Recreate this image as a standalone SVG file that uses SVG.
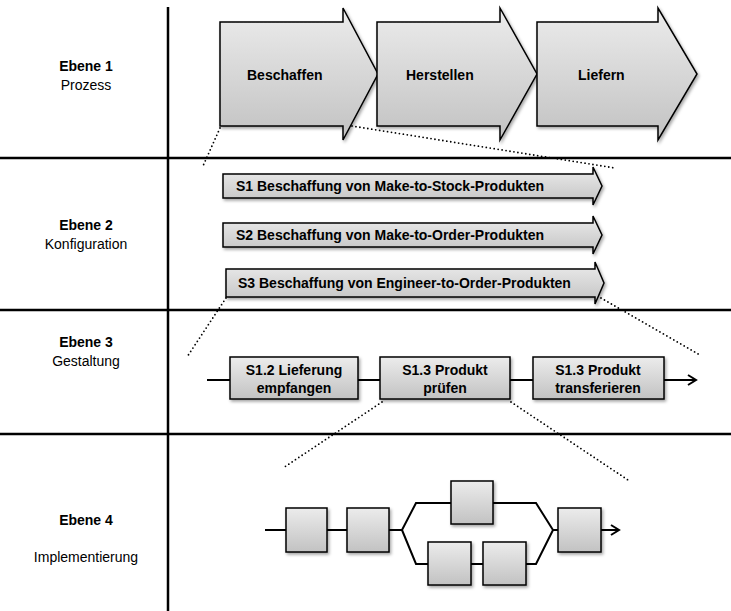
<svg xmlns="http://www.w3.org/2000/svg" width="731" height="611" viewBox="0 0 731 611">
<style>
.lbl{font-family:"Liberation Sans",Arial,sans-serif;font-size:14px;text-anchor:middle;fill:#000}
.b{font-weight:bold}
.shape{fill:url(#g);stroke:#000;stroke-width:1.5;filter:url(#sh)}
.ln{stroke:#000;stroke-width:2.5;fill:none}
.flow{stroke:#000;stroke-width:2;fill:none}
.dot{stroke:#000;stroke-width:1.8;stroke-dasharray:0 4;stroke-linecap:round;fill:none}
.t1{font-family:"Liberation Sans",Arial,sans-serif;font-size:14px;font-weight:bold;fill:#000}
.t2{font-family:"Liberation Sans",Arial,sans-serif;font-size:14px;font-weight:bold;fill:#000}
</style>
<defs>
<linearGradient id="g" x1="0" y1="0" x2="0" y2="1">
<stop offset="0" stop-color="#ececec"/>
<stop offset="1" stop-color="#c2c2c2"/>
</linearGradient>
<filter id="sh" x="-10%" y="-10%" width="130%" height="140%">
<feDropShadow dx="1.5" dy="2" stdDeviation="1.5" flood-color="#000" flood-opacity="0.35"/>
</filter>
<marker id="arr" markerWidth="12" markerHeight="12" refX="10" refY="6" orient="auto" markerUnits="userSpaceOnUse">
<path d="M2,1 L10,6 L2,11" fill="none" stroke="#000" stroke-width="2"/>
</marker>
</defs>

<g id="grid">
<line class="ln" x1="168" y1="7" x2="168" y2="611"/>
<line class="ln" x1="0" y1="158" x2="731" y2="158"/>
<line class="ln" x1="0" y1="310" x2="731" y2="310"/>
<line class="ln" x1="0" y1="434" x2="731" y2="434"/>
</g>

<g id="labels">
<text class="lbl b" x="86" y="71">Ebene 1</text>
<text class="lbl" x="86" y="90">Prozess</text>
<text class="lbl b" x="86" y="230">Ebene 2</text>
<text class="lbl" x="86" y="249">Konfiguration</text>
<text class="lbl b" x="86" y="347">Ebene 3</text>
<text class="lbl" x="86" y="366">Gestaltung</text>
<text class="lbl b" x="86" y="525">Ebene 4</text>
<text class="lbl" x="86" y="562">Implementierung</text>
</g>

<g id="connectors">
<line class="dot" x1="220" y1="128" x2="203" y2="166"/>
<line class="dot" x1="352" y1="126" x2="615" y2="168"/>
<line class="dot" x1="226" y1="298" x2="187" y2="357"/>
<line class="dot" x1="601" y1="298" x2="700" y2="355"/>
<line class="dot" x1="382" y1="402" x2="283" y2="468"/>
<line class="dot" x1="511" y1="402" x2="628" y2="480"/>
<line class="flow" x1="207" y1="380" x2="696" y2="380" marker-end="url(#arr)"/>
<path class="flow" d="M265,530 H402 L416,503 H536 L553,530 L536,564 H416 L402,530 M553,530 H619" marker-end="url(#arr)"/>
</g>

<g id="beschaffen">
<path class="shape" d="M220,22 H343 V8 L378,74 L343,140 V126 H220 Z"/>
<text class="t1" x="247" y="80">Beschaffen</text>
</g>
<g id="herstellen">
<path class="shape" d="M377,22 H500 V8 L537,74 L500,140 V126 H377 Z"/>
<text class="t1" x="406" y="80">Herstellen</text>
</g>
<g id="liefern">
<path class="shape" d="M537,22 H658 V8 L697,74 L658,140 V126 H537 Z"/>
<text class="t1" x="578" y="80">Liefern</text>
</g>

<g id="s1">
<path class="shape" d="M223,174 H593 V167 L602,186 L593,205 V198 H223 Z"/>
<text class="t2" x="236" y="191">S1 Beschaffung von Make-to-Stock-Produkten</text>
</g>
<g id="s2">
<path class="shape" d="M223,223 H593 V216 L602,235 L593,254 V247 H223 Z"/>
<text class="t2" x="236" y="240">S2 Beschaffung von Make-to-Order-Produkten</text>
</g>
<g id="s3">
<path class="shape" d="M226,269 H595 V262 L604,283 L595,304 V297 H226 Z"/>
<text class="t2" x="238" y="288">S3 Beschaffung von Engineer-to-Order-Produkten</text>
</g>

<g id="s12">
<rect class="shape" x="230" y="357" width="128" height="42"/>
<text class="lbl b" x="294" y="375">S1.2 Lieferung</text>
<text class="lbl b" x="294" y="393">empfangen</text>
</g>
<g id="s13a">
<rect class="shape" x="380" y="357" width="130" height="42"/>
<text class="lbl b" x="445" y="375">S1.3 Produkt</text>
<text class="lbl b" x="445" y="393">prüfen</text>
</g>
<g id="s13b">
<rect class="shape" x="533" y="357" width="131" height="42"/>
<text class="lbl b" x="598" y="375">S1.3 Produkt</text>
<text class="lbl b" x="598" y="393">transferieren</text>
</g>

<g id="i1"><rect class="shape" x="286" y="508" width="41" height="44"/></g>
<g id="i2"><rect class="shape" x="347" y="508" width="42" height="44"/></g>
<g id="i3"><rect class="shape" x="451" y="481" width="42" height="43"/></g>
<g id="i4"><rect class="shape" x="428" y="542" width="43" height="43"/></g>
<g id="i5"><rect class="shape" x="483" y="542" width="43" height="43"/></g>
<g id="i6"><rect class="shape" x="558" y="508" width="43" height="44"/></g>
</svg>
